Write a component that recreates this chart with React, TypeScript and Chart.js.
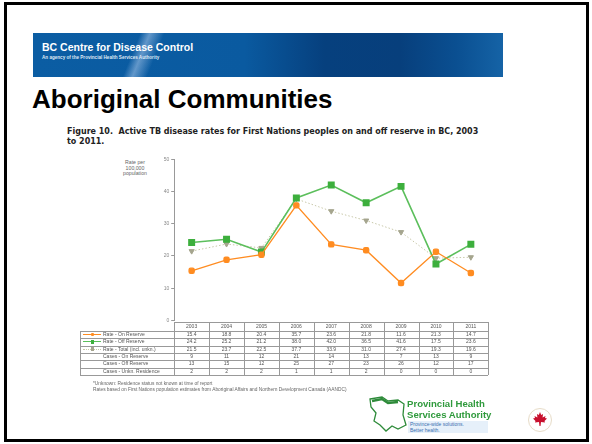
import React, { useEffect, useRef } from "react";
import Chart from "chart.js/auto";

const years = ["2003", "2004", "2005", "2006", "2007", "2008", "2009", "2010", "2011"];
const rateOnReserve = [15.4, 18.8, 20.4, 35.7, 23.6, 21.8, 11.6, 21.3, 14.7];
const rateOffReserve = [24.2, 25.2, 21.2, 38.0, 42.0, 36.5, 41.6, 17.5, 23.6];
const rateTotal = [21.5, 23.7, 22.5, 37.7, 33.9, 31.0, 27.4, 19.3, 19.6];
const casesOnReserve = [9, 11, 12, 21, 14, 13, 7, 13, 9];
const casesOffReserve = [13, 15, 12, 25, 27, 23, 26, 12, 17];
const casesUnknown = [2, 2, 2, 1, 1, 2, 0, 0, 0];
const yTicks = [0, 10, 20, 30, 40, 50];

const ORANGE = "#FF8C21";
const GREEN = "#3DAF3D";
const GREEN_LINE = "#5CBF5C";
const GRAY_PT = "#A5A58E";
const GRAY_LINE = "#C8C8AA";

const CANVAS_LEFT = 140;
const CANVAS_TOP = 150;
const CANVAS_W = 360;
const CANVAS_H = 176;
const AREA_LEFT = 174.2;
const AREA_RIGHT = 488.3;
const COL_W = (AREA_RIGHT - AREA_LEFT) / years.length;

const abs = (l: number, t: number, extra: React.CSSProperties = {}): React.CSSProperties => ({
  position: "absolute",
  left: l,
  top: t,
  ...extra,
});

function LineChart() {
  const ref = useRef<HTMLCanvasElement | null>(null);
  useEffect(() => {
    if (!ref.current) return;
    const chart = new Chart(ref.current, {
      type: "line",
      data: {
        labels: years,
        datasets: [
          {
            label: "Rate - On Reserve",
            data: rateOnReserve,
            borderColor: ORANGE,
            backgroundColor: ORANGE,
            pointBackgroundColor: ORANGE,
            pointBorderColor: ORANGE,
            pointStyle: "rectRounded",
            pointRadius: 3,
            borderWidth: 1.3,
            tension: 0,
          },
          {
            label: "Rate - Off Reserve",
            data: rateOffReserve,
            borderColor: GREEN_LINE,
            backgroundColor: GREEN,
            pointBackgroundColor: GREEN,
            pointBorderColor: GREEN,
            pointStyle: "rect",
            pointRadius: 3.8,
            borderWidth: 1.6,
            tension: 0,
          },
          {
            label: "Rate - Total (incl. unkn.)",
            data: rateTotal,
            borderColor: GRAY_LINE,
            backgroundColor: GRAY_PT,
            pointBackgroundColor: GRAY_PT,
            pointBorderColor: GRAY_PT,
            pointStyle: "triangle",
            rotation: 180,
            pointRadius: 3,
            borderWidth: 1,
            borderDash: [1.5, 2],
            tension: 0,
          },
        ],
      },
      options: {
        animation: false,
        responsive: false,
        maintainAspectRatio: false,
        layout: { padding: { top: 9.3, right: CANVAS_LEFT + CANVAS_W - AREA_RIGHT, bottom: 3.7, left: 0 } },
        plugins: { legend: { display: false }, tooltip: { enabled: false } },
        scales: {
          x: { type: "category", display: false, offset: true },
          y: {
            min: 0,
            max: 50,
            afterBuildTicks: (s: any) => {
              s.ticks = yTicks.map((v) => ({ value: v }));
            },
            afterFit: (s: any) => {
              s.width = AREA_LEFT - CANVAS_LEFT;
            },
            ticks: { font: { size: 5, family: "Liberation Sans" }, color: "#888", padding: 2 },
            grid: { drawOnChartArea: false, tickLength: 3, color: "#999" },
            border: { color: "#999", width: 1 },
          },
        },
      },
    });
    return () => chart.destroy();
  }, []);
  return (
    <canvas
      ref={ref}
      width={CANVAS_W}
      height={CANVAS_H}
      style={abs(CANVAS_LEFT, CANVAS_TOP, { width: CANVAS_W, height: CANVAS_H })}
    />
  );
}

const rowTops = [331, 338.3, 345.6, 352.9, 360.2, 367.5];
const ROW_H = 7.3;
const LABEL_LEFT = 80;

type Row = { label: string; values: string[]; marker?: "on" | "off" | "total" };
const rows: Row[] = [
  { label: "Rate - On Reserve", values: rateOnReserve.map((v) => v.toFixed(1)), marker: "on" },
  { label: "Rate - Off Reserve", values: rateOffReserve.map((v) => v.toFixed(1)), marker: "off" },
  { label: "Rate - Total (incl. unkn.)", values: rateTotal.map((v) => v.toFixed(1)), marker: "total" },
  { label: "Cases - On Reserve", values: casesOnReserve.map(String) },
  { label: "Cases - Off Reserve", values: casesOffReserve.map(String) },
  { label: "Cases - Unkn. Residence", values: casesUnknown.map(String) },
];

function Marker({ kind, top }: { kind: "on" | "off" | "total"; top: number }) {
  const color = kind === "on" ? ORANGE : kind === "off" ? GREEN : GRAY_PT;
  const line = kind === "total" ? `1px dotted ${GRAY_LINE}` : `1.3px solid ${kind === "off" ? GREEN_LINE : ORANGE}`;
  return (
    <>
      <div style={abs(LABEL_LEFT + 3, top + ROW_H / 2 - 0.5, { width: 18, height: 0, borderTop: line })} />
      <div style={abs(LABEL_LEFT + 10.5, top + ROW_H / 2 - 1.8, { width: 3.5, height: 3.5, background: color, borderRadius: kind === "on" ? 1 : 0 })} />
    </>
  );
}

function DataTable() {
  const cellFont: React.CSSProperties = {
    fontFamily: "Liberation Sans, Arial, sans-serif",
    fontSize: 5,
    color: "#555",
    lineHeight: `${ROW_H}px`,
    whiteSpace: "nowrap",
  };
  const tableBottom = rowTops[rowTops.length - 1] + ROW_H;
  const els: React.ReactNode[] = [];
  years.forEach((y, i) => {
    els.push(
      <div key={"h" + i} style={abs(AREA_LEFT + i * COL_W, 322, { ...cellFont, width: COL_W, height: 9, lineHeight: "9px", textAlign: "center" })}>
        {y}
      </div>
    );
  });
  els.push(<div key="hl0" style={abs(AREA_LEFT, 322, { width: AREA_RIGHT - AREA_LEFT, height: 0, borderTop: "0.8px solid #999" })} />);
  [331, ...rowTops.slice(1), tableBottom].forEach((t, i) => {
    els.push(<div key={"hl" + (i + 1)} style={abs(LABEL_LEFT, t, { width: AREA_RIGHT - LABEL_LEFT, height: 0, borderTop: "0.8px solid #999" })} />);
  });
  els.push(<div key="vl" style={abs(LABEL_LEFT, 331, { width: 0, height: tableBottom - 331, borderLeft: "0.8px solid #999" })} />);
  for (let i = 0; i <= years.length; i++) {
    els.push(<div key={"v" + i} style={abs(AREA_LEFT + i * COL_W, 322, { width: 0, height: tableBottom - 322, borderLeft: "0.8px solid #999" })} />);
  }
  rows.forEach((r, ri) => {
    const top = rowTops[ri];
    if (r.marker) els.push(<Marker key={"m" + ri} kind={r.marker} top={top} />);
    els.push(
      <div key={"l" + ri} style={abs(LABEL_LEFT + 23, top, { ...cellFont, height: ROW_H })}>
        {r.label}
      </div>
    );
    r.values.forEach((v, i) => {
      els.push(
        <div key={"c" + ri + "_" + i} style={abs(AREA_LEFT + i * COL_W, top, { ...cellFont, width: COL_W, height: ROW_H, textAlign: "center" })}>
          {v}
        </div>
      );
    });
  });
  return <>{els}</>;
}

export default function App() {
  return (
    <div style={{ position: "absolute", left: 0, top: 0, width: 592, height: 444, background: "#fff", overflow: "hidden" }}>
      <div style={abs(4, 2, { width: 585, height: 440, border: "3px solid #000", boxSizing: "border-box" })} />
      <div
        style={abs(33, 33, {
          width: 470,
          height: 44,
          background:
            "linear-gradient(112deg, rgba(255,255,255,0) 22%, rgba(170,200,235,0.55) 24%, rgba(255,255,255,0) 27%), linear-gradient(90deg, #0b5da3 0%, #0a5aa0 45%, #06407e 62%, #073f7c 78%, #0a4f91 90%, #1563a6 100%)",
        })}
      />
      <div style={abs(42, 42, { color: "#fff", fontFamily: "Liberation Sans, Arial, sans-serif", fontWeight: "bold", fontSize: 10.5, lineHeight: "11px", whiteSpace: "nowrap" })}>
        BC Centre for Disease Control
      </div>
      <div style={abs(42, 55, { color: "#dfe9f5", fontFamily: "Liberation Sans, Arial, sans-serif", fontWeight: "bold", fontSize: 4.6, lineHeight: "6px", whiteSpace: "nowrap" })}>
        An agency of the Provincial Health Services Authority
      </div>
      <div style={abs(32, 85, { color: "#000", fontFamily: "Liberation Sans, Arial, sans-serif", fontWeight: "bold", fontSize: 26, lineHeight: "28px", whiteSpace: "nowrap" })}>
        Aboriginal Communities
      </div>
      <div style={abs(67, 127, { color: "#222", fontFamily: "DejaVu Sans, sans-serif", fontWeight: "bold", fontSize: 8, lineHeight: "9.5px", width: 440, whiteSpace: "nowrap" })}>
        Figure 10.&nbsp; Active TB disease rates for First Nations peoples on and off reserve in BC, 2003
        <br />
        to 2011.
      </div>
      <div style={abs(113, 160, { width: 44, textAlign: "center", color: "#666", fontFamily: "Liberation Sans, Arial, sans-serif", fontSize: 5.2, lineHeight: "5.5px" })}>
        Rate per
        <br />
        100,000
        <br />
        population
      </div>
      <LineChart />
      <DataTable />
      <div style={abs(93, 381, { color: "#666", fontFamily: "Liberation Sans, Arial, sans-serif", fontSize: 4.8, lineHeight: "5.5px", whiteSpace: "nowrap" })}>
        *Unknown: Residence status not known at time of report
        <br />
        Rates based on First Nations population estimates from Aboriginal Affairs and Northern Development Canada (AANDC)
      </div>
      <svg style={abs(368, 395, { width: 40, height: 40 })} viewBox="0 0 40 40">
        <path
          d="M2 4 L14 2 L20 6 L30 5 L36 9 L35 20 L38 30 L30 34 L24 31 L18 36 L12 30 L6 26 L8 18 L3 12 Z"
          fill="none"
          stroke="#2e8b3a"
          strokeWidth="1.3"
        />
        <path d="M4 6 L14 4 L20 8 L30 7" fill="none" stroke="#2e8b3a" strokeWidth="2.5" />
      </svg>
      <div style={abs(407, 399, { color: "#2f9a3c", fontFamily: "Liberation Sans, Arial, sans-serif", fontWeight: "bold", fontSize: 9.6, lineHeight: "10.5px", whiteSpace: "nowrap" })}>
        Provincial Health
        <br />
        Services Authority
      </div>
      <div style={abs(408, 421, { width: 80, height: 12, background: "#e6f0fa" })} />
      <div style={abs(410, 421, { color: "#3a6fb0", fontFamily: "Liberation Sans, Arial, sans-serif", fontSize: 5, lineHeight: "6px", whiteSpace: "nowrap" })}>
        Province-wide solutions.
        <br />
        Better health.
      </div>
      <svg style={abs(527, 407, { width: 26, height: 26 })} viewBox="0 0 26 26">
        <circle cx="13" cy="13" r="11.5" fill="#fff" stroke="#e7dcc8" strokeWidth="1" />
        <path
          d="M13 5 L14.2 8 L16 7 L15.6 10.5 L18.5 9 L18 11 L20 11.5 L17.5 14 L18 15.5 L14 15 L13.5 19 L12.5 19 L12 15 L8 15.5 L8.5 14 L6 11.5 L8 11 L7.5 9 L10.4 10.5 L10 7 L11.8 8 Z"
          fill="#c8102e"
        />
      </svg>
    </div>
  );
}
